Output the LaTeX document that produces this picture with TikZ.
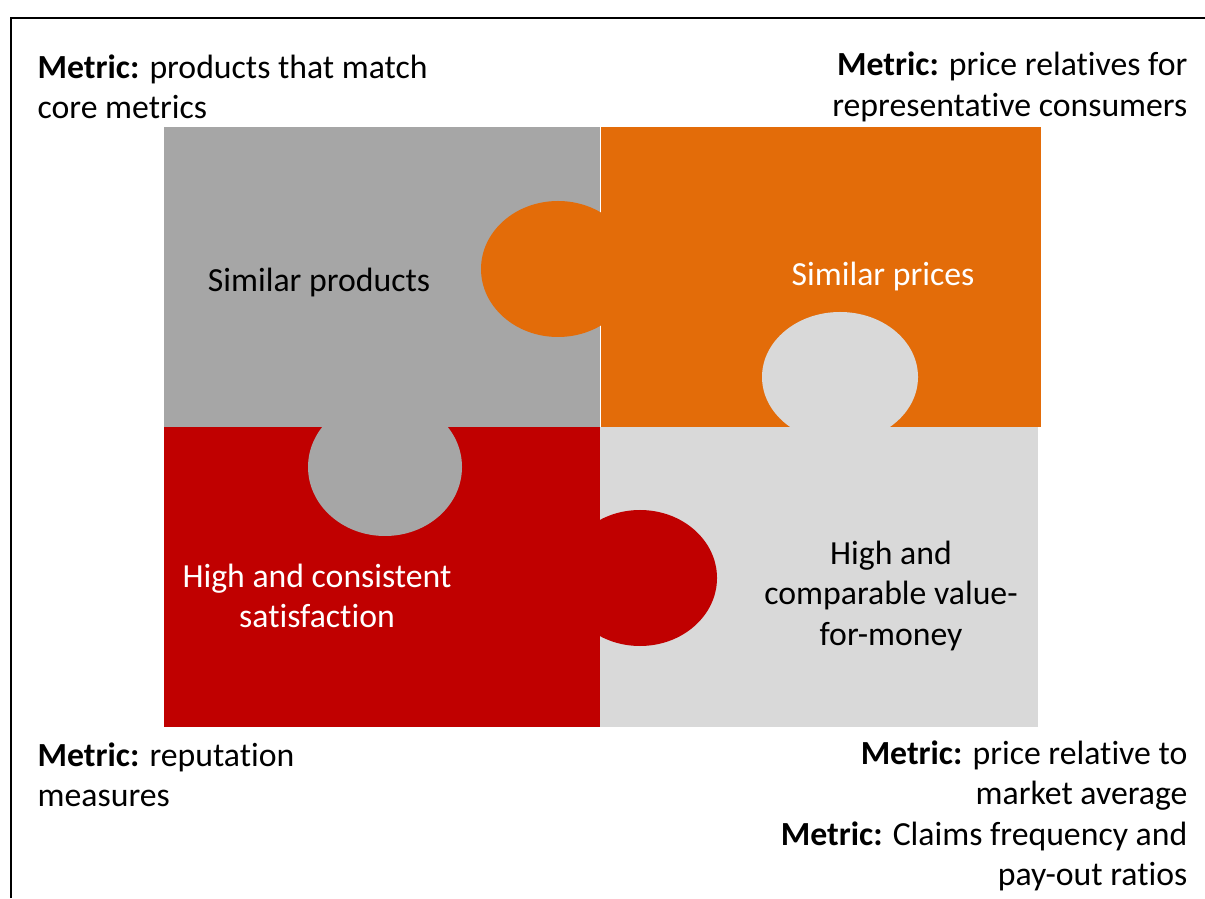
\documentclass[tikz,border=0pt]{standalone}
\usepackage{fontspec}
\setmainfont{Carlito}[Ligatures = NoCommon]
\usetikzlibrary{positioning}
\definecolor{pieceGray}{RGB}{166,166,166}
\definecolor{pieceOrange}{RGB}{227,108,9}
\definecolor{pieceRed}{RGB}{192,0,0}
\definecolor{pieceLight}{RGB}{217,217,217}

\begin{document}
\begin{tikzpicture}
	[metric/.style = {inner sep = 0pt, font = \fontsize{9.6}{11.5}\selectfont},
	 piece/.style = {inner sep = 0pt, align = center, font = \fontsize{9.6}{11.5}\selectfont}]

	\useasboundingbox (0, 0) rectangle (12.05, 8.98);

		% Define coordinates.

	%frame
	\coordinate (frameBottom) at (0.11, 0);
	\coordinate (frameCorner) at (0.11, 8.80);
	\coordinate (frameRight) at (12.05, 8.80);

	%puzzle corners
	\coordinate (topLeft) at (1.64, 7.71);
	\coordinate (topMid) at (6.01, 7.71);
	\coordinate (topRight) at (10.41, 7.71);
	\coordinate (midLeft) at (1.64, 4.71);
	\coordinate (center) at (6.00, 4.71);
	\coordinate (midRight) at (10.41, 4.71);
	\coordinate (bottomLeft) at (1.64, 1.71);
	\coordinate (bottomMid) at (6.00, 1.71);
	\coordinate (bottomRight) at (10.38, 1.71);

	%knob centres
	\coordinate (knobOrange) at (5.58, 6.29);
	\coordinate (knobLight) at (8.40, 5.21);
	\coordinate (knobGray) at (3.85, 4.31);
	\coordinate (knobRed) at (6.40, 3.20);

% Draw frame.

	\draw[line width = 0.6pt] (frameBottom) -- (frameCorner) -- (frameRight);

% Draw pieces.

	\fill [pieceGray] (topLeft) rectangle (center);
	\fill [pieceOrange] (knobOrange) ellipse [x radius = 0.77cm, y radius = 0.68cm];
	\fill [pieceOrange] (topMid) rectangle (midRight);
	\fill [pieceRed] (midLeft) rectangle (bottomMid);
	\fill [pieceGray] (knobGray) ellipse [x radius = 0.77cm, y radius = 0.69cm];
	\fill [pieceLight] (center) rectangle (bottomRight);
	\fill [pieceLight] (knobLight) ellipse [x radius = 0.78cm, y radius = 0.65cm];
	\fill [pieceRed] (knobRed) ellipse [x radius = 0.77cm, y radius = 0.68cm];

% Piece labels.

	\node[piece] (products) at (3.19, 6.15) {Similar products};
	\node[piece, text = white] (prices) at (8.83, 6.21) {Similar prices};
	\node[piece, text = white] (satisfaction) at (3.17, 3.02) {High and consistent\\satisfaction};
	\node[piece] (value) at (8.91, 3.02) {High and\\comparable value-\\for-money};

% Metric labels.

	\node[metric, anchor = west, align = left] (metricProducts) at (0.37, 8.11)
		{\textbf{Metric:} products that match\\core metrics};
	\node[metric, anchor = east, align = right] (metricPrices) at (11.88, 8.11)
		{\textbf{Metric:} price relatives for\\representative consumers};
	\node[metric, anchor = west, align = left] (metricSatisfaction) at (0.37, 1.23)
		{\textbf{Metric:} reputation\\measures};
	\node[metric, anchor = east, align = right] (metricValue) at (11.88, 0.82)
		{\textbf{Metric:} price relative to\\market average\\\textbf{Metric:} Claims frequency and\\pay-out ratios};

\end{tikzpicture}
\end{document}
